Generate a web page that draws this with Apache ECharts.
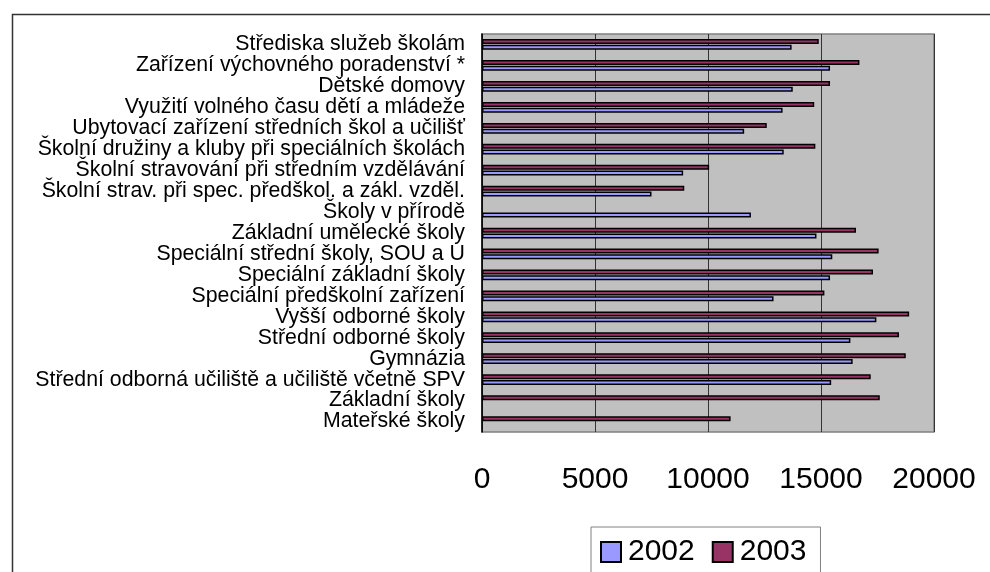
<!DOCTYPE html>
<html>
<head>
<meta charset="utf-8">
<script src="https://cdn.jsdelivr.net/npm/echarts@6/dist/echarts.min.js"></script>
<style>
  html, body { margin: 0; padding: 0; background: #fff; }
  #chart { width: 990px; height: 572px; }
</style>
</head>
<body>
<div id="chart"></div>
<script>
// Categories, listed top to bottom
const categories = [
  'Střediska služeb školám',
  'Zařízení výchovného poradenství *',
  'Dětské domovy',
  'Využití volného času dětí a mládeže',
  'Ubytovací zařízení středních škol a učilišť',
  'Školní družiny a kluby při speciálních školách',
  'Školní stravování při středním vzdělávání',
  'Školní strav. při spec. předškol. a zákl. vzděl.',
  'Školy v přírodě',
  'Základní umělecké školy',
  'Speciální střední školy, SOU a U',
  'Speciální základní školy',
  'Speciální předškolní zařízení',
  'Vyšší odborné školy',
  'Střední odborné školy',
  'Gymnázia',
  'Střední odborná učiliště a učiliště včetně SPV',
  'Základní školy',
  'Mateřské školy'
];

// Values per year (null = no value)
const values2002 = [13700, 15400, 13750, 13300, 11600, 13350, 8900, 7500, 11900,
  14800, 15500, 15400, 12900, 17450, 16300, 16400, 15450, null, null];
const values2003 = [14900, 16700, 15400, 14700, 12600, 14750, 10050, 8950, null,
  16550, 17550, 17300, 15150, 18900, 18450, 18750, 17200, 17600, 11000];

const seriesNames = ['2002', '2003'];
const xTicks = { min: 0, max: 20000, interval: 5000 };

const FONT = 'Liberation Sans, Arial, sans-serif';
const chart = echarts.init(document.getElementById('chart'));

chart.setOption({
  backgroundColor: '#ffffff',
  animation: false,
  textStyle: { fontFamily: FONT, color: '#000' },
  graphic: [{
    type: 'rect',
    left: 10, top: 12,
    shape: { width: 1100, height: 700 },
    style: { fill: 'none', stroke: '#333', lineWidth: 1.5 },
    z: -1
  }],
  grid: {
    left: 482, right: 56, top: 34, bottom: 140,
    show: true,
    backgroundColor: '#C0C0C0',
    borderColor: '#808080',
    borderWidth: 1.5
  },
  legend: {
    data: seriesNames,
    left: 591, top: 527,
    padding: [10, 14, 30, 9],
    borderColor: '#808080',
    borderWidth: 1,
    itemWidth: 20, itemHeight: 20, itemGap: 17,
    icon: 'rect',
    textStyle: { fontSize: 30, fontFamily: FONT, color: '#000', padding: [0, 0, 0, 2] }
  },
  xAxis: {
    type: 'value',
    min: xTicks.min, max: xTicks.max, interval: xTicks.interval,
    axisLine: { show: false },
    axisTick: { show: false },
    splitLine: { show: true, lineStyle: { color: '#333', width: 1 } },
    axisLabel: { fontSize: 30, fontFamily: FONT, color: '#000', margin: 33, formatter: v => String(v) }
  },
  yAxis: {
    type: 'category',
    data: categories,
    inverse: true,
    axisLine: { show: true, lineStyle: { color: '#000', width: 1.5 } },
    axisTick: { show: false },
    axisLabel: { fontSize: 21.3, fontFamily: FONT, color: '#000', margin: 17, interval: 0 }
  },
  series: [
    {
      name: seriesNames[1], type: 'bar', data: values2003,
      barWidth: 5, barGap: '15%',
      itemStyle: { color: '#993366', borderColor: '#000', borderWidth: 1.5 }
    },
    {
      name: seriesNames[0], type: 'bar', data: values2002,
      barWidth: 5, barGap: '15%',
      itemStyle: { color: '#9999FF', borderColor: '#000', borderWidth: 1.5 }
    }
  ]
});
</script>
</body>
</html>
